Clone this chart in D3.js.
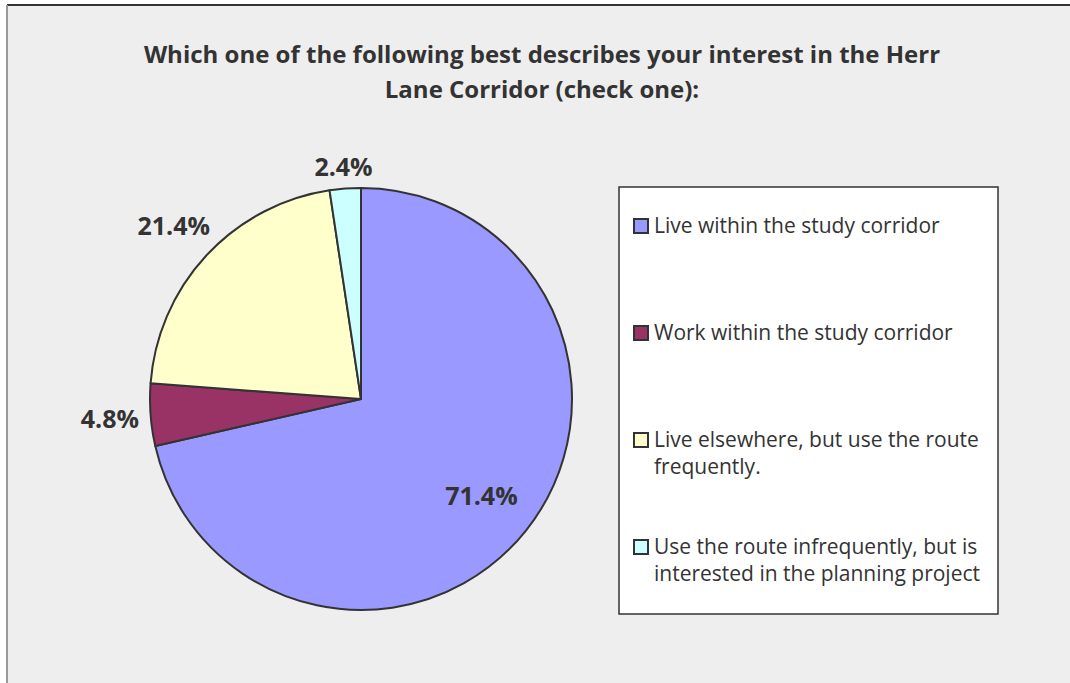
<!DOCTYPE html>
<html>
<head>
<meta charset="utf-8">
<script src="https://cdn.jsdelivr.net/npm/d3@7"></script>
<style>
  body { margin: 0; background: #fff; }
  svg text { font-family: "Open Sans", Lato, sans-serif; fill: #333; }
</style>
</head>
<body>
<div id="pie_chart"></div>
<script>
// data
var categories = [
    "Live within the study corridor",
    "Work within the study corridor",
    "Live elsewhere, but use the route frequently.",
    "Use the route infrequently, but is interested in the planning project"
];
var counts = [30, 2, 9, 1];
var percentLabels = ["71.4%", "4.8%", "21.4%", "2.4%"];
var legendLines = [
    ["Live within the study corridor"],
    ["Work within the study corridor"],
    ["Live elsewhere, but use the route", "frequently."],
    ["Use the route infrequently, but is", "interested in the planning project"]
];
var colors = ["#9999ff", "#993366", "#ffffcc", "#ccffff"];
var titleLines = [
    "Which one of the following best describes your interest in the Herr",
    "Lane Corridor (check one):"
];

function init(){
    var w = 1070;
    var h = 683;
    var cx = 361, cy = 399, r = 211;

    var svg = d3.select("#pie_chart").append("svg").attr("width", w).attr("height", h);

    // chart area background + border
    svg.append("rect").attr("x", 7).attr("y", 5).attr("width", w).attr("height", h)
        .attr("fill", "#eeeeee");
    svg.append("line").attr("x1", 7).attr("y1", 5).attr("x2", w).attr("y2", 5)
        .attr("stroke", "#333").attr("stroke-width", 2);
    svg.append("line").attr("x1", 7).attr("y1", 5).attr("x2", 7).attr("y2", h)
        .attr("stroke", "#999").attr("stroke-width", 2);

    // title
    svg.append("text")
        .attr("text-anchor", "middle")
        .attr("font-size", 24).attr("font-weight", "bold")
        .selectAll("tspan").data(titleLines).enter().append("tspan")
        .attr("x", 542)
        .attr("y", function (d, i) { return 63 + i * 35; })
        .text(function (d) { return d; });

    // pie
    var pie = d3.pie().sort(null).value(function (d) { return d; });
    var arcs = pie(counts);
    var arc = d3.arc().innerRadius(0).outerRadius(r);

    var g = svg.append("g").attr("transform", "translate(" + cx + "," + cy + ")");
    g.selectAll("path").data(arcs).enter().append("path")
        .attr("d", arc)
        .attr("fill", function (d, i) { return colors[i]; })
        .attr("stroke", "#333")
        .attr("stroke-width", 2)
        .attr("stroke-linejoin", "round");

    // labels: big slice inside, small ones outside
    var labels = g.selectAll("text.lbl").data(arcs).enter().append("text")
        .attr("class", "lbl")
        .attr("font-size", 25).attr("font-weight", "bold")
        .attr("text-anchor", "middle")
        .attr("dominant-baseline", "central")
        .text(function (d, i) { return percentLabels[i]; });

    labels.each(function (d) {
        var a = (d.startAngle + d.endAngle) / 2;
        var s = Math.sin(a), c = Math.cos(a);
        var dist;
        if (d.endAngle - d.startAngle > Math.PI) {
            dist = r * 0.73;
        } else {
            var bb = this.getBBox();
            dist = r + 11 + bb.width / 2 * Math.abs(s) + 10 * Math.abs(c);
        }
        d3.select(this).attr("x", dist * s).attr("y", -dist * c);
    });

    // legend
    var lg = svg.append("g");
    lg.append("rect").attr("x", 619).attr("y", 187).attr("width", 379).attr("height", 427)
        .attr("fill", "#fff").attr("stroke", "#333").attr("stroke-width", 1.5);

    var items = lg.selectAll("g.item").data(categories).enter().append("g")
        .attr("class", "item")
        .attr("transform", function (d, i) { return "translate(634," + (219 + i * 107) + ")"; });
    items.append("rect").attr("width", 14).attr("height", 14)
        .attr("fill", function (d, i) { return colors[i]; })
        .attr("stroke", "#333").attr("stroke-width", 2);
    items.append("text")
        .attr("font-size", 21)
        .selectAll("tspan").data(function (d, i) { return legendLines[i]; })
        .enter().append("tspan")
        .attr("x", 20)
        .attr("y", function (d, j) { return 14 + j * 27; })
        .text(function (d) { return d; });
}
window.onload = init;
</script>
</body>
</html>
